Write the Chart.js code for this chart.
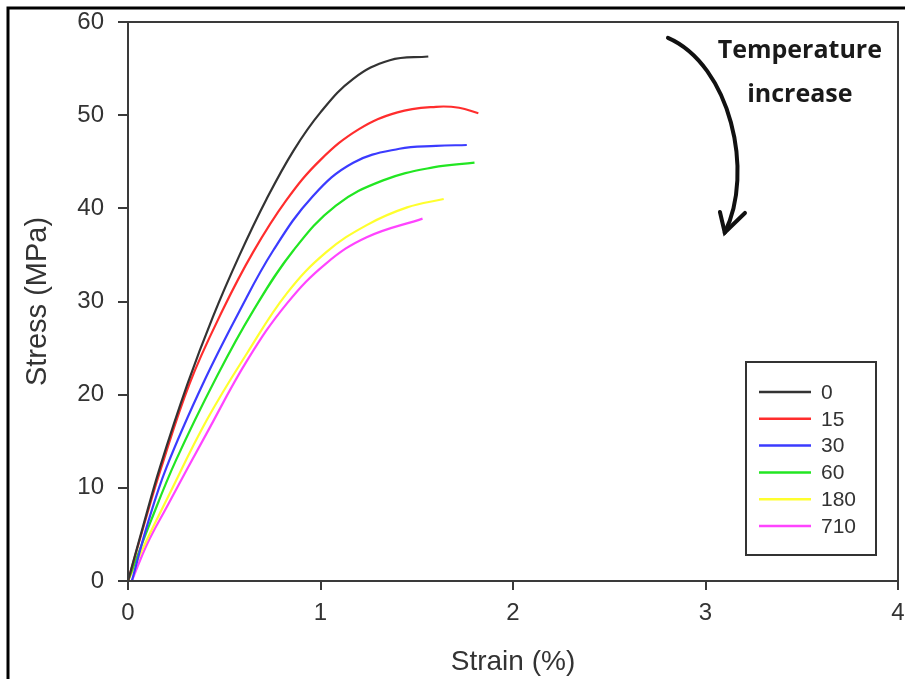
<!DOCTYPE html>
<html>
<head>
<meta charset="utf-8">
<script src="https://cdn.jsdelivr.net/npm/chart.js@4"></script>
<style>
  html, body { margin: 0; padding: 0; background: #ffffff; }
  #wrap { width: 905px; height: 679px; position: relative; }
</style>
</head>
<body>
<div id="wrap"><canvas id="c" width="905" height="679"></canvas></div>
<script>
// Series labels (time / temperature condition)
const seriesLabels = ['0', '15', '30', '60', '180', '710'];
const seriesColors = ['#333333', '#ff2d2d', '#3b3bff', '#22e622', '#ffff2e', '#ff44ff'];

// Strain (%) and Stress (MPa)
const strain0  = [0, 0.08, 0.166, 0.31, 0.44, 0.58, 0.72, 0.86, 1.0, 1.17, 1.36, 1.56];
const stress0  = [0, 6.0, 12.2, 21.2, 28.3, 35.0, 41.0, 46.2, 50.3, 53.9, 55.9, 56.3];

const strain15 = [0, 0.08, 0.17, 0.32, 0.49, 0.65, 0.82, 1.0, 1.2, 1.4, 1.6, 1.72, 1.82];
const stress15 = [0, 5.8, 12.0, 21.2, 29.0, 35.3, 40.8, 45.2, 48.5, 50.3, 50.9, 50.8, 50.2];

const strain30 = [0.02, 0.1, 0.2, 0.39, 0.58, 0.755, 0.96, 1.17, 1.41, 1.6, 1.76];
const stress30 = [0, 6.0, 12.2, 21.2, 29.0, 35.5, 41.3, 44.9, 46.4, 46.7, 46.8];

const strain60 = [0, 0.12, 0.25, 0.46, 0.65, 0.86, 1.08, 1.325, 1.585, 1.8];
const stress60 = [0, 6.5, 13.0, 21.9, 29.0, 35.5, 40.3, 43.0, 44.4, 44.9];

const strain180 = [0, 0.1, 0.2, 0.41, 0.62, 0.826, 1.03, 1.24, 1.45, 1.64];
const stress180 = [0, 4.5, 8.7, 17.3, 24.5, 30.9, 35.3, 38.2, 40.1, 41.0];

const strain710 = [0.02, 0.1, 0.2, 0.41, 0.62, 0.826, 1.03, 1.24, 1.53];
const stress710 = [0, 4.0, 7.9, 15.9, 23.7, 29.8, 34.1, 36.9, 38.9];

const xTicks = [0, 1, 2, 3, 4];
const yTicks = [0, 10, 20, 30, 40, 50, 60];

const strains = [strain0, strain15, strain30, strain60, strain180, strain710];
const stresses = [stress0, stress15, stress30, stress60, stress180, stress710];

const datasets = seriesLabels.map((lab, i) => ({
  label: lab,
  data: strains[i].map((x, j) => ({ x: x, y: stresses[i][j] })),
  borderColor: seriesColors[i],
  backgroundColor: seriesColors[i],
  borderWidth: 2.2,
  pointRadius: 0,
  tension: 0.4,
  fill: false
}));

const FONT = "'Liberation Sans', Arial, sans-serif";

const decor = {
  id: 'decor',
  beforeDraw(chart) {
    const ctx = chart.ctx;
    ctx.save();
    ctx.fillStyle = '#ffffff';
    ctx.fillRect(0, 0, chart.width, chart.height);
    // outer frame (left and top)
    ctx.strokeStyle = '#000000';
    ctx.lineWidth = 3;
    ctx.beginPath();
    ctx.moveTo(8, chart.height);
    ctx.lineTo(8, 8);
    ctx.lineTo(chart.width, 8);
    ctx.stroke();
    ctx.restore();
  },
  afterDatasetsDraw(chart) {
    const ctx = chart.ctx;
    const a = chart.chartArea;
    const xs = chart.scales.x, ys = chart.scales.y;
    ctx.save();
    // plot frame
    ctx.strokeStyle = '#3a3a3a';
    ctx.lineWidth = 2;
    ctx.strokeRect(a.left, a.top, a.right - a.left, a.bottom - a.top);

    // legend box
    const lx = a.right - 152, ly = a.top + 340, lw = 130, lh = 193;
    ctx.lineWidth = 2;
    ctx.strokeStyle = '#333333';
    ctx.strokeRect(lx, ly, lw, lh);
    ctx.font = '21px ' + FONT;
    ctx.textAlign = 'left';
    ctx.textBaseline = 'middle';
    chart.data.datasets.forEach((ds, i) => {
      const yy = ly + 30 + i * 26.8;
      ctx.strokeStyle = ds.borderColor;
      ctx.lineWidth = 2.5;
      ctx.beginPath();
      ctx.moveTo(lx + 13, yy);
      ctx.lineTo(lx + 65, yy);
      ctx.stroke();
      ctx.fillStyle = '#333333';
      ctx.fillText(ds.label, lx + 75, yy + 1);
    });

    // annotation text
    ctx.fillStyle = '#1a1a1a';
    ctx.font = "bold 25px 'Open Sans', sans-serif";
    ctx.textAlign = 'center';
    ctx.textBaseline = 'alphabetic';
    const tx = xs.getPixelForValue(3.49);
    ctx.fillText('Temperature', tx, ys.getPixelForValue(56.1));
    ctx.fillText('increase', tx, ys.getPixelForValue(51.4));

    // curved arrow
    const P = (x, y) => [xs.getPixelForValue(x), ys.getPixelForValue(y)];
    const s = P(2.805, 58.3), c1 = P(3.127, 55.4), c2 = P(3.257, 43.9), e = P(3.1, 37.4);
    ctx.strokeStyle = '#111111';
    ctx.lineWidth = 4;
    ctx.lineCap = 'round';
    ctx.beginPath();
    ctx.moveTo(s[0], s[1]);
    ctx.bezierCurveTo(c1[0], c1[1], c2[0], c2[1], e[0], e[1]);
    ctx.stroke();
    const w1 = P(3.075, 39.6), w2 = P(3.205, 39.5);
    ctx.beginPath();
    ctx.moveTo(w1[0], w1[1]);
    ctx.lineTo(e[0], e[1]);
    ctx.lineTo(w2[0], w2[1]);
    ctx.stroke();
    ctx.restore();
  }
};

new Chart(document.getElementById('c'), {
  type: 'line',
  data: { datasets: datasets },
  options: {
    responsive: false,
    animation: false,
    layout: { padding: { top: 22, right: 0, left: 0, bottom: 0 } },
    plugins: { legend: { display: false }, tooltip: { enabled: false } },
    scales: {
      x: {
        type: 'linear',
        min: 0, max: 4,
        afterBuildTicks: (s) => { s.ticks = xTicks.map(v => ({ value: v })); },
        afterFit: (s) => { s.height = 98; s.paddingRight = 7; s.paddingLeft = 0; },
        border: { display: true, color: '#3a3a3a', width: 2 },
        grid: { drawOnChartArea: false, drawTicks: true, tickLength: 9, color: '#3a3a3a', lineWidth: 2 },
        ticks: { color: '#333333', font: { family: FONT, size: 24 }, padding: 9, maxRotation: 0 },
        title: { display: true, text: 'Strain (%)', color: '#333333', font: { family: FONT, size: 28 }, padding: { top: 0, bottom: 0 } }
      },
      y: {
        type: 'linear',
        min: 0, max: 60,
        afterBuildTicks: (s) => { s.ticks = yTicks.map(v => ({ value: v })); },
        afterFit: (s) => { s.width = 128; s.paddingTop = 0; s.paddingBottom = 0; },
        border: { display: true, color: '#3a3a3a', width: 2 },
        grid: { drawOnChartArea: false, drawTicks: true, tickLength: 10, color: '#3a3a3a', lineWidth: 2 },
        ticks: { color: '#333333', font: { family: FONT, size: 24 }, padding: 14 },
        title: { display: true, text: 'Stress (MPa)', color: '#333333', font: { family: FONT, size: 29 }, padding: { top: 21, bottom: 0 } }
      }
    }
  },
  plugins: [decor]
});
</script>
</body>
</html>
